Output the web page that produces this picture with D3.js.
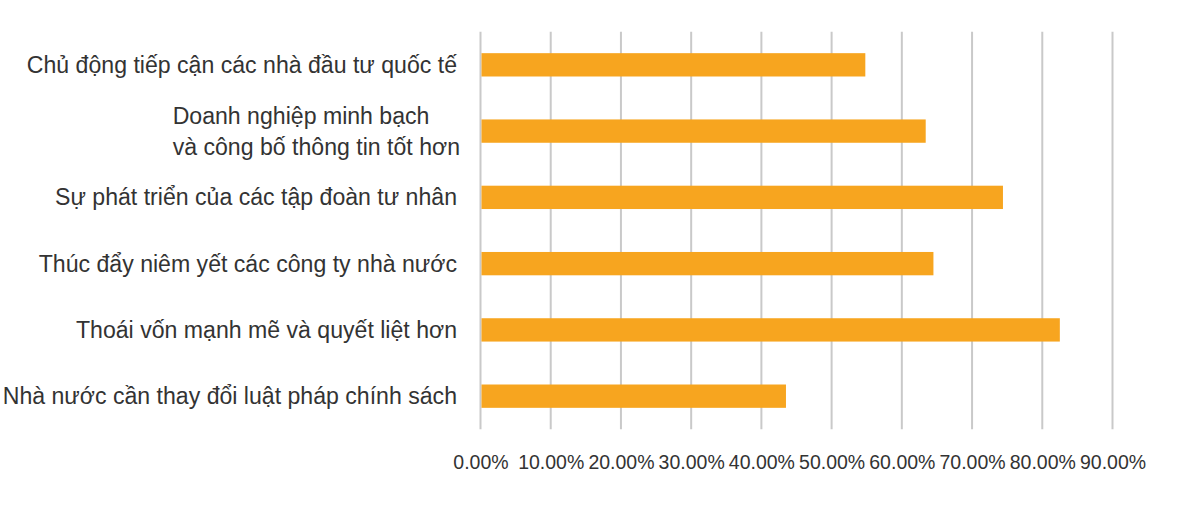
<!DOCTYPE html>
<html lang="vi">
  <head>
    <meta charset="UTF-8" />
    <title>Bar chart</title>
    <script src="https://cdnjs.cloudflare.com/ajax/libs/d3/7.8.5/d3.min.js"></script>
    <style>
      html, body {
        margin: 0;
        padding: 0;
        background: #ffffff;
      }
      #chart {
        width: 1200px;
        height: 507px;
      }
      text {
        font-family: "Liberation Sans", Arial, sans-serif;
        fill: #333333;
      }
    </style>
  </head>
  <body>
    <div id="chart"></div>
    <script>
      // Categories, top to bottom (line breaks kept as in the picture)
      const categories = [
        "Chủ động tiếp cận các nhà đầu tư quốc tế",
        "Doanh nghiệp minh bạch\nvà công bố thông tin tốt hơn",
        "Sự phát triển của các tập đoàn tư nhân",
        "Thúc đẩy niêm yết các công ty nhà nước",
        "Thoái vốn mạnh mẽ và quyết liệt hơn",
        "Nhà nước cần thay đổi luật pháp chính sách",
      ];
      const values = [0.548, 0.634, 0.744, 0.645, 0.825, 0.435];
      const tickValues = [0, 0.1, 0.2, 0.3, 0.4, 0.5, 0.6, 0.7, 0.8, 0.9];

      const width = 1200;
      const height = 507;
      const plot = { left: 480.5, right: 1112.5, top: 31.7, bottom: 429.3 };

      const svg = d3
        .select("#chart")
        .append("svg")
        .attr("width", width)
        .attr("height", height);

      const x = d3.scaleLinear().domain([0, 0.9]).range([plot.left, plot.right]);
      const y = d3
        .scaleBand()
        .domain(categories)
        .range([plot.top, plot.bottom])
        .paddingInner(0.648)
        .paddingOuter(0.324);

      // Vertical gridlines (the 0 line doubles as the axis)
      svg
        .append("g")
        .selectAll("line")
        .data(tickValues)
        .join("line")
        .attr("x1", (d) => x(d))
        .attr("x2", (d) => x(d))
        .attr("y1", plot.top)
        .attr("y2", plot.bottom)
        .attr("stroke", "#c9c9c9")
        .attr("stroke-width", 2);

      // Bars
      svg
        .append("g")
        .selectAll("rect")
        .data(values)
        .join("rect")
        .attr("x", x(0) + 1)
        .attr("y", (d, i) => y(categories[i]))
        .attr("width", (d) => x(d) - x(0) - 1)
        .attr("height", y.bandwidth())
        .attr("fill", "#f7a51f");

      // Tick labels
      const xAxis = d3
        .axisBottom(x)
        .tickValues(tickValues)
        .tickFormat(d3.format(".2%"))
        .tickSize(0)
        .tickPadding(0);

      const gx = svg
        .append("g")
        .attr("transform", `translate(0,${plot.bottom + 26})`)
        .call(xAxis);
      gx.select(".domain").remove();
      gx.selectAll("text")
        .attr("font-family", "'Liberation Sans', Arial, sans-serif")
        .attr("font-size", 19.5)
        .attr("fill", "#333333")
        .attr("dy", "0.71em");

      // Category labels
      const labelRight = 457;
      const lineHeight = 31;
      const labels = svg
        .append("g")
        .selectAll("text")
        .data(categories)
        .join("text")
        .attr("font-size", 23.1);

      labels.each(function (d) {
        const lines = d.split("\n");
        const t = d3.select(this);
        const cy = y(d) + y.bandwidth() / 2;
        const spans = lines.map((line, i) =>
          t
            .append("tspan")
            .attr("y", cy + (i - (lines.length - 1) / 2) * lineHeight)
            .attr("dy", "0.35em")
            .text(line)
        );
        const widest = d3.max(spans, (s) => s.node().getComputedTextLength());
        const right = lines.length > 1 ? labelRight + 3 : labelRight;
        spans.forEach((s) => s.attr("x", right - widest));
      });
    </script>
  </body>
</html>
